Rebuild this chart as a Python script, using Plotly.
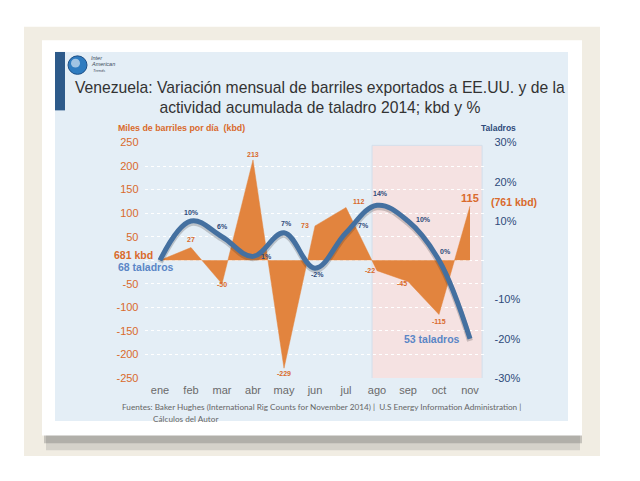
import plotly.graph_objects as go

# ---------------- data ----------------
months = ["ene", "feb", "mar", "abr", "may", "jun", "jul", "ago", "sep", "oct", "nov"]
kbd_change = [0, 27, -50, 213, -229, 73, 112, -22, -45, -115, 115]
kbd_labels = ["", "27", "-50", "213", "-229", "73", "112", "-22", "-45", "-115", "115"]
rig_pct = [0, 10, 6, 1, 7, -2, 7, 14, 10, 0, -20]
rig_labels = ["", "10%", "6%", "1%", "7%", "-2%", "7%", "14%", "10%", "0%", ""]
left_tickvals = [-250, -200, -150, -100, -50, 0, 50, 100, 150, 200, 250]
left_ticktext = ["-250", "-200", "-150", "-100", "-50", "", "50", "100", "150", "200", "250"]
right_tickvals = [-30, -20, -10, 10, 20, 30]
right_ticktext = ["-30%", "-20%", "-10%", "10%", "20%", "30%"]

title_text = ("Venezuela: Variación mensual de barriles exportados a EE.UU. y de la<br>"
              "actividad acumulada de taladro 2014; kbd y %")
footer_1 = ("Fuentes: Baker Hughes (International Rig Counts for November 2014) |  "
            "U.S Energy Information Administration |")
footer_2 = "Cálculos del Autor"

# ---------------- style ----------------
OFF = 8                      # page body margin
W, H = 640 - 2 * OFF, 453
ORANGE = "#e2843e"
ORANGE_TXT = "#d96a2c"
BLUE = "#4470a0"
BLUE_TXT = "#2e4a7a"
LIGHT_BLUE_TXT = "#5b86c6"
FONT = "Liberation Sans"

# label offsets (pixels) for each point
kbd_off = [(0, 0), (0, 8), (0, -1), (0, 5), (0, -5), (-10, 0), (12, 6), (-7, 0), (-6, -2), (0, -7), (0, 8)]
rig_off = [(0, 0), (0, 9), (0, 10), (13, 0), (2, 9), (2, -6), (17, 7), (3, 12), (15, 2), (6, 9), (0, 0)]


def X(px):
    return (px - OFF) / W


def Y(py):
    return 1 - (py - OFF) / H


fig = go.Figure()

# orange area
fig.add_trace(go.Scatter(
    x=months, y=kbd_change, mode="lines", fill="tozeroy",
    fillcolor=ORANGE, line=dict(color=ORANGE, width=0.5, shape="linear"),
    hoverinfo="skip", showlegend=False, yaxis="y"))

# shadow of blue line
fig.add_trace(go.Scatter(
    x=months, y=rig_pct, mode="lines",
    line=dict(color="rgba(40,40,40,0.22)", width=6, shape="spline", smoothing=1.1),
    hoverinfo="skip", showlegend=False, yaxis="y2"))

# blue line
fig.add_trace(go.Scatter(
    x=months, y=rig_pct, mode="lines",
    line=dict(color=BLUE, width=5, shape="spline", smoothing=1.1),
    hoverinfo="skip", showlegend=False, yaxis="y3"))

shapes = []
# beige background
shapes.append(dict(type="rect", xref="paper", yref="paper", x0=X(24), x1=X(600), y0=Y(462), y1=Y(21),
                   fillcolor="#f1ede3", line=dict(width=0), layer="below"))
# card shadow
shapes.append(dict(type="rect", xref="paper", yref="paper", x0=X(46), x1=X(580), y0=Y(456), y1=Y(436),
                   fillcolor="rgba(90,90,90,0.18)", line=dict(width=0), layer="below"))
shapes.append(dict(type="rect", xref="paper", yref="paper", x0=X(44), x1=X(582), y0=Y(449), y1=Y(436),
                   fillcolor="rgba(70,70,70,0.25)", line=dict(width=0), layer="below"))
# white card
shapes.append(dict(type="rect", xref="paper", yref="paper", x0=X(42), x1=X(582), y0=Y(441), y1=Y(35),
                   fillcolor="#ffffff", line=dict(width=0), layer="below"))
# blue panel
shapes.append(dict(type="rect", xref="paper", yref="paper", x0=X(55), x1=X(568), y0=Y(426), y1=Y(47),
                   fillcolor="#e4eef6", line=dict(width=0), layer="below"))
# dark left bar
shapes.append(dict(type="rect", xref="paper", yref="paper", x0=X(55), x1=X(65), y0=Y(107), y1=Y(47),
                   fillcolor="#2d5a8a", line=dict(width=0), layer="below"))
# logo globe
shapes.append(dict(type="circle", xref="paper", yref="paper", x0=X(68), x1=X(87), y0=Y(70), y1=Y(51),
                   fillcolor="#2f7cc0", line=dict(color="#1d4f86", width=1), layer="below"))
shapes.append(dict(type="circle", xref="paper", yref="paper", x0=X(71), x1=X(80), y0=Y(63), y1=Y(54),
                   fillcolor="rgba(255,255,255,0.55)", line=dict(width=0), layer="below"))
# pink highlight region
shapes.append(dict(type="rect", xref="x", yref="y", x0=6.84, x1=10.39, y0=-262, y1=244,
                   fillcolor="#f5e2e2", line=dict(color="#d3dfec", width=1), layer="below"))

ann = []
ann.append(dict(text=title_text, xref="paper", yref="paper", x=X(320), y=Y(94), xanchor="center",
                yanchor="middle", showarrow=False, align="center",
                font=dict(family=FONT, size=15.7, color="#333333")))
for t, yy, dx in [("Inter", 53, 89), ("American", 59, 89), ("Trends", 66, 91)]:
    ann.append(dict(text="<i>" + t + "</i>", xref="paper", yref="paper", x=X(dx), y=Y(yy), xanchor="left",
                    yanchor="middle", showarrow=False,
                    font=dict(family=FONT, size=5.5 if t != "Trends" else 4, color="#3a4a5a")))
ann.append(dict(text="<b>Miles de barriles por día  (kbd)</b>", xref="paper", yref="paper", x=X(116), y=Y(125),
                xanchor="left", yanchor="middle", showarrow=False,
                font=dict(family=FONT, size=8.8, color=ORANGE_TXT)))
ann.append(dict(text="<b>Taladros</b>", xref="paper", yref="paper", x=X(498), y=Y(125),
                xanchor="center", yanchor="middle", showarrow=False,
                font=dict(family=FONT, size=8.5, color=BLUE_TXT)))
ann.append(dict(text="<b>681 kbd</b>", xref="paper", yref="paper", x=X(155), y=Y(256),
                xanchor="right", yanchor="middle", showarrow=False,
                font=dict(family=FONT, size=10.5, color=ORANGE_TXT)))
ann.append(dict(text="<b>68 taladros</b>", xref="paper", yref="paper", x=X(116), y=Y(268),
                xanchor="left", yanchor="middle", showarrow=False,
                font=dict(family=FONT, size=10.5, color=LIGHT_BLUE_TXT)))
ann.append(dict(text="<b>(761 kbd)</b>", xref="paper", yref="paper", x=X(489), y=Y(201),
                xanchor="left", yanchor="middle", showarrow=False,
                font=dict(family=FONT, size=10.5, color=ORANGE_TXT)))
ann.append(dict(text="<b>53 taladros</b>", xref="x", yref="y3", x=10, y=rig_pct[-1],
                xanchor="right", yanchor="middle", xshift=-8, showarrow=False,
                font=dict(family=FONT, size=10.5, color=LIGHT_BLUE_TXT)))
ann.append(dict(text=footer_1, xref="paper", yref="paper", x=X(120), y=Y(412),
                xanchor="left", yanchor="middle", showarrow=False,
                font=dict(family="Lato", size=8.2, color="#666666")))
ann.append(dict(text=footer_2, xref="paper", yref="paper", x=X(151), y=Y(424),
                xanchor="left", yanchor="middle", showarrow=False,
                font=dict(family="Lato", size=8.2, color="#666666")))

for i, (m, v, lab) in enumerate(zip(months, kbd_change, kbd_labels)):
    if not lab:
        continue
    dx, dy = kbd_off[i]
    big = (i == len(months) - 1)
    ann.append(dict(text="<b>" + lab + "</b>", xref="x", yref="y", x=m, y=v, xshift=dx, yshift=dy,
                    showarrow=False, xanchor="center", yanchor="middle",
                    font=dict(family=FONT, size=11 if big else 7, color=ORANGE_TXT)))
for i, (m, v, lab) in enumerate(zip(months, rig_pct, rig_labels)):
    if not lab:
        continue
    dx, dy = rig_off[i]
    ann.append(dict(text="<b>" + lab + "</b>", xref="x", yref="y3", x=m, y=v, xshift=dx, yshift=dy,
                    showarrow=False, xanchor="center", yanchor="middle",
                    font=dict(family=FONT, size=7, color=BLUE_TXT)))

ydom = [Y(382), Y(140)]
fig.update_layout(
    width=W, height=H, margin=dict(l=0, r=0, t=0, b=0),
    paper_bgcolor="#ffffff", plot_bgcolor="rgba(0,0,0,0)",
    shapes=shapes, annotations=ann, showlegend=False,
    xaxis=dict(domain=[X(144.5), X(485.5)], range=[-0.5, 10.5], type="category",
               showgrid=False, zeroline=False, showline=False, ticks="",
               ticklabelstandoff=4, tickfont=dict(family=FONT, size=11, color="#6a6a6a")),
    yaxis=dict(domain=ydom, range=[-250, 250], tickvals=left_tickvals, ticktext=left_ticktext,
               showgrid=True, gridcolor="#ffffff", griddash="dot", gridwidth=1,
               zeroline=False, showline=False, ticks="", ticklabelstandoff=5,
               tickfont=dict(family=FONT, size=11, color=ORANGE_TXT)),
    yaxis2=dict(domain=ydom, range=[-29.5, 30.5], overlaying="y", visible=False),
    yaxis3=dict(domain=ydom, range=[-30, 30], overlaying="y", side="right", anchor="x",
                tickvals=right_tickvals, ticktext=right_ticktext, showgrid=False, zeroline=False,
                showline=False, ticks="", ticklabelstandoff=8,
                tickfont=dict(family=FONT, size=11, color=BLUE_TXT)),
)

fig.write_html("out.html")
